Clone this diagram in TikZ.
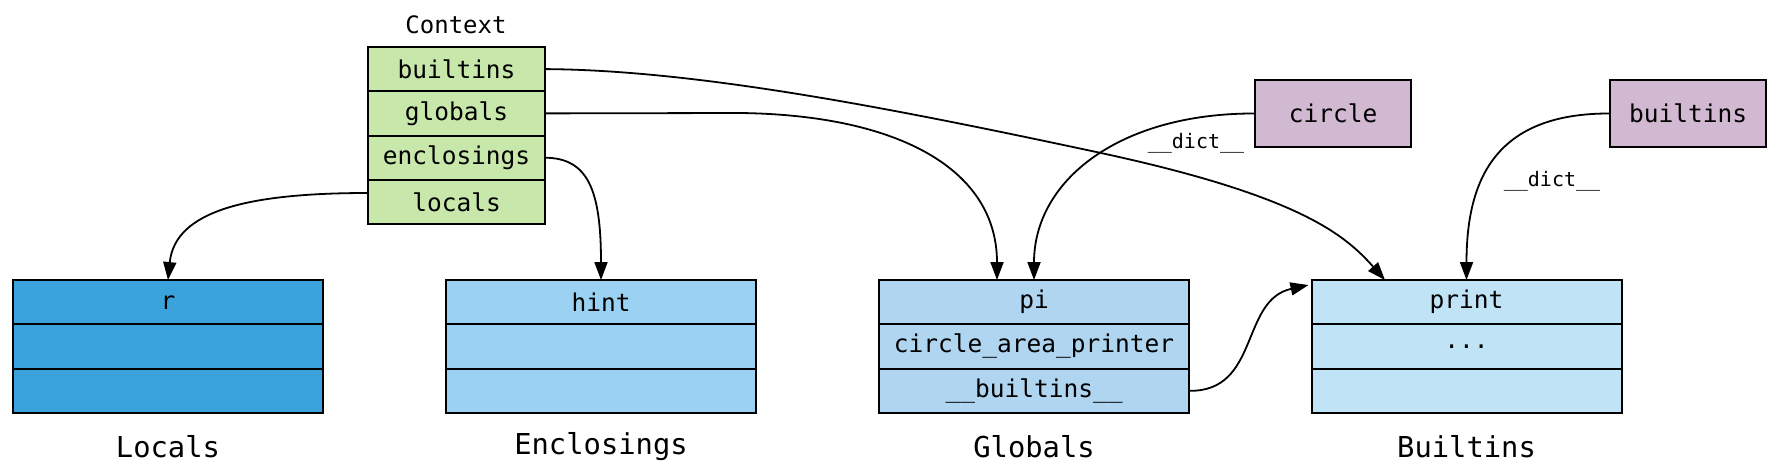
\documentclass[tikz,border=0pt]{standalone}
\usepackage{fontspec}
\setmainfont{DejaVu Sans Mono}
\usetikzlibrary{arrows.meta}
\usetikzlibrary{positioning}
\definecolor{ctxgreen}{HTML}{C8E7AA}
\definecolor{localblue}{HTML}{3BA3DB}
\definecolor{enclblue}{HTML}{9BD1F2}
\definecolor{globblue}{HTML}{B0D5F0}
\definecolor{builtblue}{HTML}{C1E3F6}
\definecolor{objpurple}{HTML}{D2B9D2}
\tikzstyle{slot} = [rectangle, minimum width=310pt, minimum height=44.3pt, text centered, draw=black, line width=2pt, outer sep=0pt, inner sep=0pt, font=\fontsize{24.5}{24.5}\selectfont]
\tikzstyle{ctxslot} = [slot, minimum width=177pt, fill=ctxgreen]
\tikzstyle{obj} = [slot, minimum width=156pt, minimum height=67pt, fill=objpurple]
\tikzstyle{scopename} = [font=\fontsize{28.8}{28.8}\selectfont]
\tikzstyle{ref} = [-{Triangle[length=18pt,width=13pt]}, line width=1.8pt]
\tikzstyle{dictlabel} = [font=\fontsize{20}{20}\selectfont]

\begin{document}
\begin{tikzpicture}[x=1pt, y=-1pt, node distance=0pt]
\useasboundingbox (0,0) rectangle (1776,471);

 % context
 \node (ctxtitle) at (456,25) {\fontsize{24}{24}\selectfont Context};
 \node (ctxb) [ctxslot] at (456.5,69.1) {builtins};
 \node (ctxg) [ctxslot, below=of ctxb] {globals};
 \node (ctxe) [ctxslot, below=of ctxg] {enclosings};
 \node (ctxl) [ctxslot, below=of ctxe] {locals};

 % scopes
 \node (r) [slot, fill=localblue] at (168,302.2) {r};
 \node (loc2) [slot, fill=localblue, below=of r] {};
 \node (loc3) [slot, fill=localblue, below=of loc2] {};
 \node (hint) [slot, fill=enclblue] at (601,302.2) {hint};
 \node (enc2) [slot, fill=enclblue, below=of hint] {};
 \node (enc3) [slot, fill=enclblue, below=of enc2] {};
 \node (pi) [slot, fill=globblue] at (1034,302.2) {pi};
 \node (cap) [slot, fill=globblue, below=of pi] {circle\_area\_printer};
 \node (gb) [slot, fill=globblue, below=of cap] {\_\_builtins\_\_};
 \node (print) [slot, fill=builtblue] at (1466.5,302.2) {print};
 \node (dots) [slot, fill=builtblue, below=of print] {...};
 \node (blt3) [slot, fill=builtblue, below=of dots] {};

 \node (loctitle) [scopename] at (168,447) {Locals};
 \node (enctitle) [scopename] at (601,447) {Enclosings};
 \node (globtitle) [scopename] at (1034,447) {Globals};
 \node (blttitle) [scopename] at (1466.5,447) {Builtins};

 % modules
 \node (circle) [obj] at (1333,113.5) {circle};
 \node (bmod) [obj] at (1688,113.5) {builtins};
 \node (dict1) [dictlabel] at (1196,143) {\_\_dict\_\_};
 \node (dict2) [dictlabel] at (1552,181) {\_\_dict\_\_};

 % references
 \draw [ref] ([yshift=9pt]ctxl.west) .. controls (250,193) and (175,210) .. (r.north);
 \draw [ref] (ctxe.east) .. controls (588,158) and (601,190) .. (hint.north);
 \draw [ref] (ctxg.east) -- (740,113) .. controls (900,115) and (997,170) .. ([xshift=-37pt]pi.north);
 \draw [ref] (ctxb.east) .. controls (700,70) and (900,110) .. (1101,153) .. controls (1300,196) and (1345,235) .. ([xshift=-81.5pt]print.north);
 \draw [ref] (circle.west) .. controls (1120,113) and (1034,180) .. (pi.north);
 \draw [ref] (bmod.west) .. controls (1495,113) and (1466.5,180) .. (print.north);
 \draw [ref] (gb.east) .. controls (1260,392) and (1240,300) .. ([xshift=-3pt,yshift=-5pt]print.north west);
\end{tikzpicture}
\end{document}
